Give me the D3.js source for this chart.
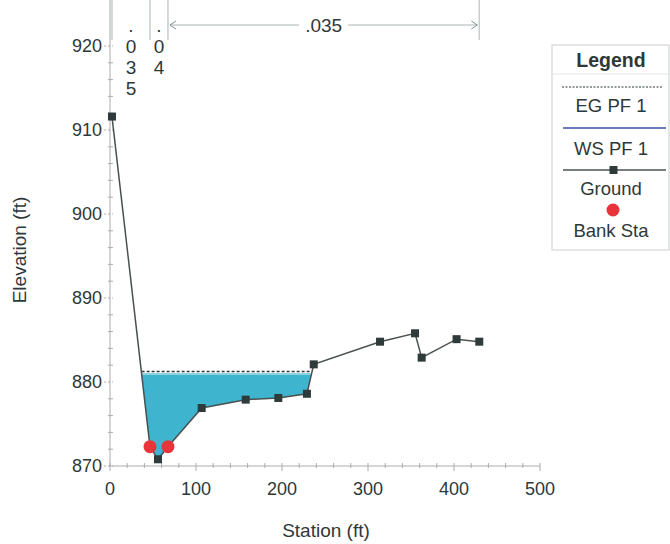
<!DOCTYPE html>
<html>
<head>
<meta charset="utf-8">
<script src="https://cdn.jsdelivr.net/npm/d3@7"></script>
<style>
  html, body { margin: 0; padding: 0; background: #fff; }
  svg { display: block; font-family: "Liberation Sans", Arial, Helvetica, sans-serif; }
</style>
</head>
<body>
<svg id="chart" width="670" height="544"></svg>
<script>
// Cross-section ground profile
const stations   = [2.3, 46.5, 55.8, 67.4, 106.6, 157.8, 195.7, 229.0, 236.9, 314.0, 354.7, 362.4, 403.0, 429.4];
const elevations = [911.6, 872.3, 870.8, 872.3, 876.9, 877.9, 878.1, 878.6, 882.1, 884.8, 885.8, 882.9, 885.1, 884.8];

// Bank stations
const bankStations = [46.5, 67.4];
const bankElevations = [872.3, 872.3];

// Profile results
const wsElevation = 880.95;   // WS PF 1
const egElevation = 881.25;   // EG PF 1

// Manning's n breaks and values
const nBreaks = [2.3, 46.5, 67.4, 429.4];
const nValues = [".035", ".04", ".035"];

// Axis ticks
const xTicks = [0, 100, 200, 300, 400, 500];
const yTicks = [870, 880, 890, 900, 910, 920];

const legendItems = ["EG PF 1", "WS PF 1", "Ground", "Bank Sta"];

const svg = d3.select("#chart");
const x = d3.scaleLinear().domain([0, 500]).range([110, 540]);
const y = d3.scaleLinear().domain([870, 920]).range([466, 46]);

const axisColor = "#a9adad";
const textColor = "#2f3838";

// ---- Axes ----
const gAx = svg.append("g");
gAx.append("line").attr("x1", x(0)).attr("x2", x(0)).attr("y1", 0).attr("y2", y(870))
  .attr("stroke", axisColor).attr("stroke-width", 1);
gAx.append("line").attr("x1", x(0)).attr("x2", x(500)).attr("y1", y(870)).attr("y2", y(870))
  .attr("stroke", axisColor).attr("stroke-width", 1);

d3.range(870, 922, 2).forEach(v => {
  const major = v % 10 === 0;
  gAx.append("line")
    .attr("x1", x(0) - (major ? 6 : 2)).attr("x2", x(0) + 3)
    .attr("y1", y(v)).attr("y2", y(v))
    .attr("stroke", axisColor).attr("stroke-width", 1)
    .attr("stroke-dasharray", major ? "2,2" : null);
});
d3.range(0, 520, 20).forEach(v => {
  const major = v % 100 === 0;
  gAx.append("line")
    .attr("x1", x(v)).attr("x2", x(v))
    .attr("y1", y(870) - 3).attr("y2", y(870) + (major ? 5 : 2))
    .attr("stroke", axisColor).attr("stroke-width", 1);
});

gAx.selectAll(".ylab").data(yTicks).join("text")
  .attr("x", x(0) - 8).attr("y", d => y(d)).attr("dy", "0.36em")
  .attr("text-anchor", "end").attr("font-size", 18).attr("fill", textColor)
  .text(d => d);
gAx.selectAll(".xlab").data(xTicks).join("text")
  .attr("x", d => x(d)).attr("y", 489).attr("dy", "0.36em")
  .attr("text-anchor", "middle").attr("font-size", 18).attr("fill", textColor)
  .text(d => d);

svg.append("text").attr("x", 326).attr("y", 530).attr("dy", "0.36em")
  .attr("text-anchor", "middle").attr("font-size", 19).attr("fill", textColor)
  .text("Station (ft)");
svg.append("text").attr("transform", "translate(19,250) rotate(-90)").attr("dy", "0.36em")
  .attr("text-anchor", "middle").attr("font-size", 19).attr("fill", textColor)
  .text("Elevation (ft)");

// ---- Water area under WS ----
const pts = stations.map((s, i) => [s, elevations[i]]);
const water = [];
for (let i = 0; i < pts.length - 1; i++) {
  const [s0, e0] = pts[i], [s1, e1] = pts[i + 1];
  if (e0 <= wsElevation && (i === 0 || water.length)) water.push([s0, e0]);
  if ((e0 - wsElevation) * (e1 - wsElevation) < 0) {
    const t = (wsElevation - e0) / (e1 - e0);
    water.push([s0 + t * (s1 - s0), wsElevation]);
    if (e1 > wsElevation) break;
  }
}
const lineGen = d3.line().x(d => x(d[0])).y(d => y(d[1]));
svg.append("path").attr("d", lineGen(water) + "Z")
  .attr("fill", "#3fb4cf").attr("stroke", "none");

const wsL = water[0][0], wsR = water[water.length - 1][0];
svg.append("line").attr("x1", x(wsL)).attr("x2", x(wsR))
  .attr("y1", y(wsElevation)).attr("y2", y(wsElevation))
  .attr("stroke", "#8fd3e3").attr("stroke-width", 2);
svg.append("line").attr("x1", x(wsL)).attr("x2", x(wsR))
  .attr("y1", y(egElevation)).attr("y2", y(egElevation))
  .attr("stroke", "#2e3a3f").attr("stroke-width", 1.3).attr("stroke-dasharray", "3,2");

// ---- Ground ----
svg.append("path").attr("d", lineGen(pts))
  .attr("fill", "none").attr("stroke", "#4a5050").attr("stroke-width", 1.5);
svg.selectAll(".gpt").data(pts).join("rect")
  .attr("x", d => x(d[0]) - 4).attr("y", d => y(d[1]) - 4)
  .attr("width", 8).attr("height", 8).attr("fill", "#2f3a3a");

// ---- Bank stations ----
svg.selectAll(".bank").data(bankStations).join("circle")
  .attr("cx", d => x(d)).attr("cy", (d, i) => y(bankElevations[i]))
  .attr("r", 6.5).attr("fill", "#e8343a");

// ---- Manning's n ----
const gN = svg.append("g");
nBreaks.forEach(s => {
  gN.append("line").attr("x1", x(s)).attr("x2", x(s)).attr("y1", 0).attr("y2", 40)
    .attr("stroke", "#c8cccc").attr("stroke-width", 1.5);
});
for (let i = 0; i < nValues.length; i++) {
  const a = x(nBreaks[i]), b = x(nBreaks[i + 1]);
  const cx = (a + b) / 2;
  if (b - a < 60) {
    // narrow zones: characters stacked vertically
    nValues[i].split("").forEach((ch, k) => {
      gN.append("text").attr("x", cx).attr("y", 25 + k * 21).attr("dy", "0.36em")
        .attr("text-anchor", "middle").attr("font-size", 19).attr("fill", textColor)
        .text(ch);
    });
  } else {
    const ty = 25;
    const label = gN.append("text").attr("x", cx).attr("y", ty).attr("dy", "0.36em")
      .attr("text-anchor", "middle").attr("font-size", 19).attr("fill", textColor)
      .text(nValues[i]);
    const tw = label.node().getComputedTextLength();
    gN.append("line").attr("x1", a + 2).attr("x2", cx - tw / 2 - 6).attr("y1", ty).attr("y2", ty)
      .attr("stroke", "#a9b3b3").attr("stroke-width", 1);
    gN.append("line").attr("x1", cx + tw / 2 + 6).attr("x2", b - 2).attr("y1", ty).attr("y2", ty)
      .attr("stroke", "#a9b3b3").attr("stroke-width", 1);
    gN.append("path").attr("d", `M${a + 8},${ty - 4} L${a + 2},${ty} L${a + 8},${ty + 4}`)
      .attr("fill", "none").attr("stroke", "#7f9393").attr("stroke-width", 1);
    gN.append("path").attr("d", `M${b - 8},${ty - 4} L${b - 2},${ty} L${b - 8},${ty + 4}`)
      .attr("fill", "none").attr("stroke", "#7f9393").attr("stroke-width", 1);
  }
}

// ---- Legend ----
const lg = svg.append("g");
const lx0 = 552, lx1 = 669, lcx = 611;
lg.append("rect").attr("x", lx0).attr("y", 45).attr("width", lx1 - lx0).attr("height", 205)
  .attr("fill", "#fff").attr("stroke", "#d4d8d8").attr("stroke-width", 1.2);
lg.append("text").attr("x", lcx).attr("y", 60).attr("dy", "0.36em")
  .attr("text-anchor", "middle").attr("font-size", 19.5).attr("font-weight", "bold")
  .attr("fill", textColor).text("Legend");
lg.append("line").attr("x1", lx0).attr("x2", lx1).attr("y1", 74).attr("y2", 74)
  .attr("stroke", "#e2e5e5").attr("stroke-width", 1);

lg.append("line").attr("x1", 562).attr("x2", 663).attr("y1", 87).attr("y2", 87)
  .attr("stroke", "#2e3a3f").attr("stroke-width", 1).attr("stroke-dasharray", "2,1.5");
lg.append("line").attr("x1", 563).attr("x2", 666).attr("y1", 128).attr("y2", 128)
  .attr("stroke", "#3a4fa6").attr("stroke-width", 1.5);
lg.append("line").attr("x1", 563).attr("x2", 666).attr("y1", 170).attr("y2", 170)
  .attr("stroke", "#4a5050").attr("stroke-width", 1.3);
lg.append("rect").attr("x", 609.5).attr("y", 166).attr("width", 8).attr("height", 8).attr("fill", "#2f3a3a");
lg.append("circle").attr("cx", 613).attr("cy", 210).attr("r", 6.5).attr("fill", "#e8343a");

const labelY = [105, 148, 188, 230];
lg.selectAll(".li").data(legendItems).join("text")
  .attr("x", lcx).attr("y", (d, i) => labelY[i]).attr("dy", "0.36em")
  .attr("text-anchor", "middle").attr("font-size", 18.5).attr("fill", textColor)
  .text(d => d);
</script>
</body>
</html>
